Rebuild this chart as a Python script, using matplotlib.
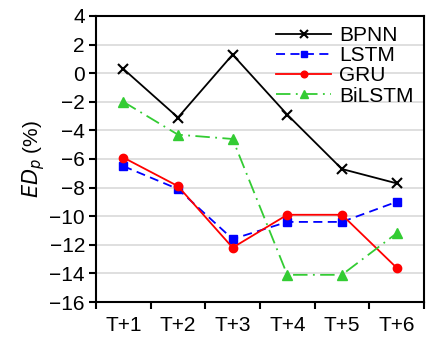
import matplotlib
matplotlib.use("Agg")
import matplotlib.pyplot as plt
import numpy as np

plt.rcParams["font.family"] = ["Liberation Sans", "DejaVu Sans"]

steps = ["T+1", "T+2", "T+3", "T+4", "T+5", "T+6"]
bpnn = [0.3, -3.1, 1.3, -2.9, -6.7, -7.7]
lstm = [-6.5, -8.1, -11.6, -10.4, -10.4, -9.0]
gru = [-5.9, -7.9, -12.2, -9.9, -9.9, -13.6]
bilstm = [-2.0, -4.3, -4.6, -14.1, -14.1, -11.2]

x = np.arange(1, len(steps) + 1)

fig = plt.figure(figsize=(4.26, 3.38), dpi=100)
ax = fig.add_axes([0.2254, 0.1065, 0.7696, 0.8462])

ax.plot(x, bpnn, color="black", lw=1.3, marker="x", ms=7, mew=1.5, label="BPNN")
ax.plot(x, lstm, color="#0000ff", lw=1.3, ls=(0, (5, 3)), marker="s", ms=6, label="LSTM")
ax.plot(x, gru, color="#ff0000", lw=1.3, marker="o", ms=6, label="GRU")
ax.plot(x, bilstm, color="#33cc33", lw=1.3, ls=(0, (8, 3, 1, 3)), marker="^", ms=7, label="BiLSTM")

ax.set_xlim(0.5, 6.5)
ax.set_ylim(-16, 4)
ax.set_yticks(np.arange(-16, 5, 2))
ax.set_xticks(x)
ax.set_xticklabels(steps)
ax.set_xticks(np.arange(0.5, 7, 1), minor=True)
ax.tick_params(axis="x", which="major", length=0, pad=10, labelsize=15)
ax.tick_params(axis="x", which="minor", length=5, width=1.5, direction="out")
ax.tick_params(axis="y", length=5, width=1.5, direction="out", labelsize=15, pad=3)
ax.yaxis.grid(True, color="#d9d9d9", lw=1.2)
ax.set_axisbelow(True)
for s in ax.spines.values():
    s.set_linewidth(1.5)

ax.set_ylabel(r"$ED_p$ (%)", fontsize=15, labelpad=2)

ax.legend(loc="upper right", frameon=False, fontsize=15, handlelength=2.6,
          handletextpad=0.4, labelspacing=0.05, borderaxespad=0.1, markerscale=0.8)

fig.savefig("out.png", dpi=100)
